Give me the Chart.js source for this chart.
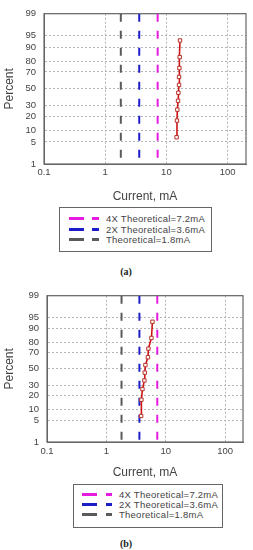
<!DOCTYPE html>
<html>
<head>
<meta charset="utf-8">
<script src="https://cdn.jsdelivr.net/npm/chart.js@4.4.1/dist/chart.umd.min.js"></script>
<style>
  html, body { margin: 0; padding: 0; background: #fff; }
  body { width: 253px; height: 550px; position: relative; overflow: hidden; font-family: "Liberation Sans", Arial, sans-serif; }
  .panel { position: absolute; left: 0; width: 253px; }
  .legend { position: absolute; border: 1px solid #666; background: #fff; box-sizing: border-box; }
  .legend .row { position: absolute; left: 0; right: 0; height: 11px; }
  .legend .dash { position: absolute; top: 4px; height: 3px; }
  .legend .txt { position: absolute; top: 0; line-height: 11px; font-size: 9.5px; color: #444; white-space: nowrap; letter-spacing: 0.25px; }
  .tag { position: absolute; font: bold 10px "Liberation Serif", serif; color: #222; transform: translate(-50%, -50%); }
</style>
</head>
<body>
<div class="panel" id="panelA" style="top:0;height:205px"><canvas id="chartA"></canvas></div>
<div class="legend" id="legendA" style="left:59px;top:207px;width:153px;height:45px"></div>
<div class="tag" style="left:126px;top:271px">(a)</div>

<div class="panel" id="panelB" style="top:282px;height:201px"><canvas id="chartB"></canvas></div>
<div class="legend" id="legendB" style="left:73px;top:484px;width:150px;height:44px"></div>
<div class="tag" style="left:126px;top:543px">(b)</div>

<script>
// probability axis labels (percent) and current axis labels (mA)
const percentTicks = [1, 5, 10, 20, 30, 50, 70, 80, 90, 95, 99];
const currentTicks = [0.1, 1, 10, 100];

// plotting positions (median ranks, %) shared by both samples
const rankPercent = [6.7, 16.3, 26.0, 35.6, 45.2, 54.8, 64.4, 74.0, 83.7, 93.3];
const currentA    = [14.7, 14.9, 15.1, 15.5, 15.7, 16.1, 16.1, 16.3, 16.5, 16.7];
const currentB    = [3.85, 3.89, 4.05, 4.37, 4.43, 4.55, 5.01, 5.11, 5.74, 5.97];

// reference (theoretical) current lines
const refLabels   = ['4X Theoretical=7.2mA', '2X Theoretical=3.6mA', 'Theoretical=1.8mA'];
const refCurrents = [7.2, 3.6, 1.8];
const refColors   = ['#e61be0', '#1c1cc8', '#5a5a5a'];


// inverse normal CDF (Acklam) -> maps percent to probability-paper position
function probit(p) {
    const a = [-3.969683028665376e+01, 2.209460984245205e+02, -2.759285104469687e+02, 1.383577518672690e+02, -3.066479806614716e+01, 2.506628277459239e+00];
    const b = [-5.447609879822406e+01, 1.615858368580409e+02, -1.556989798598866e+02, 6.680131188771972e+01, -1.328068155288572e+01];
    const c = [-7.784894002430293e-03, -3.223964580411365e-01, -2.400758277161838e+00, -2.549732539343734e+00, 4.374664141464968e+00, 2.938163982698783e+00];
    const d = [7.784695709041462e-03, 3.224671290700398e-01, 2.445134137142996e+00, 3.754408661907416e+00];
    const pl = 0.02425;
    let q, r;
    if (p < pl) {
        q = Math.sqrt(-2 * Math.log(p));
        return (((((c[0]*q+c[1])*q+c[2])*q+c[3])*q+c[4])*q+c[5]) / ((((d[0]*q+d[1])*q+d[2])*q+d[3])*q+1);
    }
    if (p > 1 - pl) {
        q = Math.sqrt(-2 * Math.log(1 - p));
        return -(((((c[0]*q+c[1])*q+c[2])*q+c[3])*q+c[4])*q+c[5]) / ((((d[0]*q+d[1])*q+d[2])*q+d[3])*q+1);
    }
    q = p - 0.5; r = q * q;
    return (((((a[0]*r+a[1])*r+a[2])*r+a[3])*r+a[4])*r+a[5])*q / (((((b[0]*r+b[1])*r+b[2])*r+b[3])*r+b[4])*r+1);
}

const zMin = probit(percentTicks[0] / 100);
const zMax = probit(percentTicks[percentTicks.length - 1] / 100);

const framePlugin = {
    id: 'frame',
    beforeDatasetsDraw(chart) {
        const { ctx, chartArea: a } = chart;
        ctx.save();
        ctx.strokeStyle = '#666';
        ctx.lineWidth = 1.2;
        ctx.strokeRect(a.left, a.top, a.right - a.left, a.bottom - a.top);
        ctx.restore();
    }
};

function buildChart(canvasId, currents, g) {
    const refSets = refCurrents.map((cur, i) => ({
        label: refLabels[i],
        data: [{ x: cur, y: zMax }, { x: cur, y: zMin }],
        borderColor: refColors[i],
        borderWidth: 2,
        borderDash: [8, 9],
        pointRadius: 0,
        order: 2
    }));
    const measured = {
        label: 'Measured',
        data: currents.map((cur, i) => ({ x: cur, y: probit(rankPercent[i] / 100) })),
        borderColor: '#cc1414',
        borderWidth: 1.6,
        pointStyle: 'rect',
        pointRadius: 2.4,
        pointBackgroundColor: '#fff',
        pointBorderColor: '#b8302a',
        pointBorderWidth: 1,
        order: 1
    };
    const tickFont = { family: '"Liberation Sans", Arial, sans-serif', size: 9.5 };
    const titleFont = { family: '"Liberation Sans", Arial, sans-serif', size: 12 };

    return new Chart(document.getElementById(canvasId), {
        type: 'line',
        data: { datasets: [...refSets, measured] },
        options: {
            responsive: true,
            maintainAspectRatio: false,
            animation: false,
            layout: { padding: { top: g.top, right: g.right, left: 0, bottom: 0 } },
            plugins: { legend: { display: false }, tooltip: { enabled: false } },
            scales: {
                x: {
                    type: 'logarithmic',
                    min: 0.1,
                    max: 200,
                    afterBuildTicks: s => { s.ticks = currentTicks.map(v => ({ value: v })); },
                    afterFit: s => { s.height = g.xAxisH; },
                    ticks: {
                        callback: (v, i) => String(currentTicks[i]),
                        font: tickFont, color: '#444', padding: g.xTickPad,
                        maxRotation: 0, autoSkip: false
                    },
                    grid: { color: '#b4b4b4', lineWidth: 1, drawTicks: false },
                    border: { display: true, color: '#666', dash: [2, 2] },
                    title: { display: true, text: 'Current, mA', font: titleFont, color: '#444', padding: { top: 0, bottom: g.xTitlePad } }
                },
                y: {
                    type: 'linear',
                    min: zMin,
                    max: zMax,
                    afterBuildTicks: s => { s.ticks = percentTicks.map(p => ({ value: probit(p / 100) })); },
                    afterFit: s => { s.width = g.yAxisW; },
                    ticks: {
                        callback: (v, i) => String(percentTicks[i]),
                        font: tickFont, color: '#444', padding: 8, autoSkip: false
                    },
                    grid: { color: '#b4b4b4', lineWidth: 1, drawTicks: false },
                    border: { display: true, color: '#666', dash: [2, 2] },
                    title: { display: true, text: 'Percent', font: titleFont, color: '#444', padding: { top: 2, bottom: 0 } }
                }
            }
        },
        plugins: [framePlugin]
    });
}

function buildLegend(boxId, rowTops, dashes, textLeft) {
    const box = document.getElementById(boxId);
    refLabels.forEach((lbl, i) => {
        const row = document.createElement('div');
        row.className = 'row';
        row.style.top = rowTops[i] + 'px';
        dashes.forEach(([left, width]) => {
            const d = document.createElement('div');
            d.className = 'dash';
            d.style.left = left + 'px';
            d.style.width = width + 'px';
            d.style.background = refColors[i];
            row.appendChild(d);
        });
        const t = document.createElement('div');
        t.className = 'txt';
        t.style.left = textLeft + 'px';
        t.textContent = lbl;
        row.appendChild(t);
        box.appendChild(row);
    });
}

buildChart('chartA', currentA, { top: 6, right: 7, yAxisW: 44, xAxisH: 41, xTickPad: 3, xTitlePad: 1 });
buildChart('chartB', currentB, { top: 6, right: 10, yAxisW: 47, xAxisH: 41, xTickPad: 4, xTitlePad: 3 });

buildLegend('legendA', [5, 15.5, 26], [[9, 15], [32, 7]], 46);
buildLegend('legendB', [4, 14, 24], [[8, 15], [32, 6]], 45);
</script>
</body>
</html>
